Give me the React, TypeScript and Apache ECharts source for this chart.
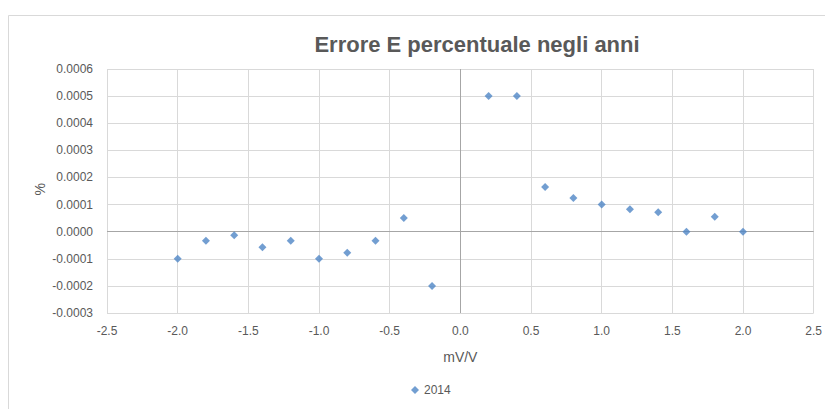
import React, { useEffect, useRef } from "react";
import * as echarts from "echarts";

const xValues = [-2.0, -1.8, -1.6, -1.4, -1.2, -1.0, -0.8, -0.6, -0.4, -0.2, 0.2, 0.4, 0.6, 0.8, 1.0, 1.2, 1.4, 1.6, 1.8, 2.0];
const yValues = [
  -0.0001, -0.0000333, -0.0000133, -0.0000576, -0.0000333, -0.0001, -0.0000775, -0.0000333, 0.00005, -0.0002,
  0.0005, 0.0005, 0.000165, 0.000124, 0.0001, 0.0000826, 0.0000716, 0.0, 0.0000554, 0.0,
];
const seriesName = "2014";
const titleText = "Errore E percentuale negli anni";
const xAxisName = "mV/V";
const yAxisName = "%";

const FONT = "'Liberation Sans', Arial, sans-serif";
const GREY_TEXT = "#595959";

export default function App() {
  const ref = useRef<HTMLDivElement>(null);
  useEffect(() => {
    if (!ref.current) return;
    const chart = echarts.init(ref.current, undefined, { renderer: "svg" });
    const data = xValues.map((x, i) => [x, yValues[i]]);
    chart.setOption({
      animation: false,
      backgroundColor: "#ffffff",
      textStyle: { fontFamily: FONT },
      title: {
        text: titleText,
        left: 472,
        top: 28,
        textAlign: "center",
        textStyle: { fontFamily: FONT, fontSize: 22, fontWeight: "bold", color: GREY_TEXT },
      },
      graphic: [
        {
          type: "rect",
          left: 6,
          top: 13,
          shape: { width: 830, height: 410 },
          style: { fill: "none", stroke: "#d9d9d9", lineWidth: 1 },
          silent: true,
          z: -1,
        },
        {
          type: "text",
          left: 33,
          top: 183,
          rotation: Math.PI / 2,
          style: { text: yAxisName, font: `14px ${FONT}`, fill: GREY_TEXT },
        },
      ],
      legend: {
        bottom: 8,
        left: 406,
        itemWidth: 8,
        itemHeight: 8,
        itemGap: 4,
        textStyle: { fontFamily: FONT, fontSize: 12, color: GREY_TEXT },
        data: [{ name: seriesName, icon: "diamond" }],
      },
      grid: { left: 107, right: 10, top: 69, bottom: 96, containLabel: false },
      xAxis: {
        type: "value",
        min: -2.5,
        max: 2.5,
        interval: 0.5,
        name: xAxisName,
        nameLocation: "middle",
        nameGap: 37,
        nameTextStyle: { fontFamily: FONT, fontSize: 14, color: GREY_TEXT },
        axisLine: { show: false },
        axisTick: { show: false },
        axisLabel: {
          fontFamily: FONT,
          fontSize: 12,
          color: GREY_TEXT,
          margin: 12,
          formatter: (v: number) => v.toFixed(1),
        },
        splitLine: { show: true, lineStyle: { color: "#d9d9d9", width: 1 } },
      },
      yAxis: {
        type: "value",
        min: -0.0003,
        max: 0.0006,
        interval: 0.0001,
        axisLine: { show: false },
        axisTick: { show: false },
        axisLabel: {
          fontFamily: FONT,
          fontSize: 12,
          color: GREY_TEXT,
          margin: 14,
          formatter: (v: number) => v.toFixed(4),
        },
        splitLine: { show: true, lineStyle: { color: "#d9d9d9", width: 1 } },
      },
      series: [
        {
          name: seriesName,
          type: "scatter",
          symbol: "diamond",
          symbolSize: 8,
          itemStyle: { color: "#4F86C6" },
          data,
          markLine: {
            silent: true,
            symbol: "none",
            label: { show: false },
            lineStyle: { color: "#a6a6a6", type: "solid", width: 1 },
            data: [{ xAxis: 0 }, { yAxis: 0 }],
            z: 1,
          },
        },
      ],
    });
    return () => chart.dispose();
  }, []);
  return (
    <div
      ref={ref}
      style={{ position: "fixed", left: 0, top: 0, width: 825, height: 409 }}
    />
  );
}
